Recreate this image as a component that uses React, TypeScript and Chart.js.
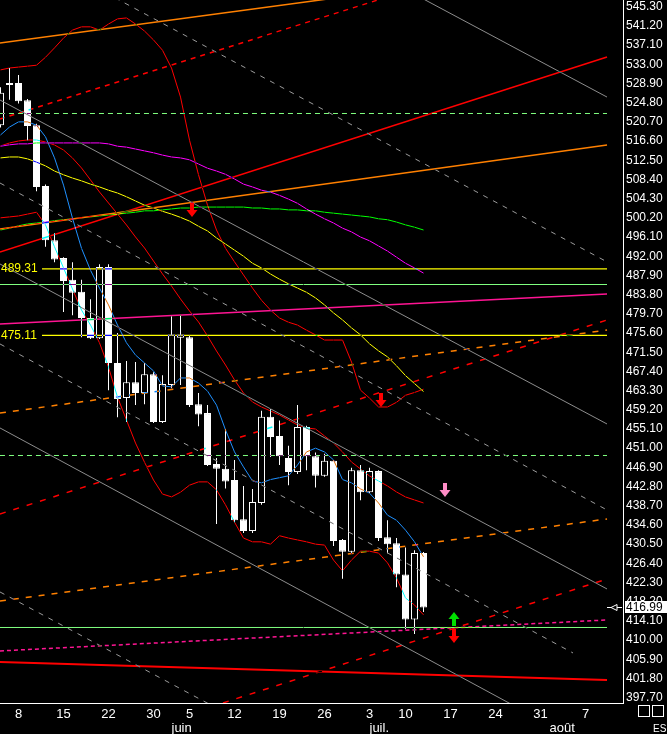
import React, { useEffect, useRef } from 'react';
import { Chart, registerables } from 'chart.js';

Chart.register(...registerables);

// Daily candles, trading-day index 0 = Monday 8 May; the first two bars are the prior sessions.
const FIRST_INDEX = -2;

const opens = [
  520.0, 528.6, 529.0, 525.3, 520.0, 507.0, 495.4, 491.6, 487.0, 484.4, 478.8, 474.5,
  489.7, 469.2, 461.7, 465.1, 462.8, 466.8, 456.6, 464.5, 474.6, 474.7, 460.4, 458.5,
  447.6, 446.6, 444.2, 435.8, 433.3, 439.3, 457.7, 453.6, 448.9, 445.9, 455.5, 449.3,
  445.1, 448.3, 431.4, 428.9, 446.3, 441.6, 446.1, 432.0, 430.7, 424.0, 414.4, 428.6,
];
const highs = [
  528.1, 532.2, 530.7, 525.6, 520.3, 507.3, 496.9, 491.8, 490.7, 487.0, 482.8, 490.3,
  490.3, 475.6, 469.6, 469.4, 469.2, 467.2, 466.6, 479.2, 479.4, 475.0, 462.8, 460.2,
  448.9, 455.1, 448.5, 442.9, 442.3, 459.0, 459.5, 456.9, 451.5, 460.2, 455.8, 450.1,
  449.8, 448.5, 431.6, 446.8, 447.4, 446.8, 446.3, 435.6, 431.8, 429.8, 429.2, 428.8,
];
const lows = [
  519.5, 525.4, 524.6, 516.8, 505.9, 494.0, 490.7, 480.1, 479.4, 474.7, 474.3, 474.3,
  463.4, 457.6, 456.6, 460.2, 460.4, 456.4, 456.4, 463.8, 464.5, 459.8, 455.7, 447.2,
  434.8, 442.4, 435.2, 432.9, 432.9, 438.9, 449.1, 447.4, 443.1, 445.5, 446.3, 442.6,
  444.9, 430.1, 423.1, 428.5, 439.9, 441.4, 431.2, 428.5, 421.3, 412.3, 411.3, 416.0,
];
const closes = [
  526.9, 529.0, 525.1, 519.8, 506.8, 495.4, 491.3, 486.7, 484.2, 478.8, 474.5, 489.7,
  469.2, 461.5, 465.1, 462.8, 466.8, 456.6, 464.7, 475.3, 475.3, 460.2, 458.2, 447.4,
  446.6, 443.9, 435.6, 433.3, 439.5, 457.7, 453.4, 449.3, 445.9, 455.5, 449.3, 445.1,
  448.3, 431.2, 428.9, 446.3, 441.6, 446.1, 431.8, 430.5, 424.0, 414.4, 428.6, 416.99,
];

// Indicators, one value per candle
const fastAverage = [
  517.9, 519.6, 520.7, 520.7, 520.0, 517.5, 513.0, 507.2, 500.1, 493.7, 489.0, 485.2,
  481.6, 477.3, 473.5, 470.9, 469.2, 467.5, 464.3, 464.1, 466.0, 466.0, 464.9, 463.2,
  460.2, 454.9, 450.2, 447.0, 444.0, 443.6, 444.3, 444.7, 445.1, 447.4, 450.2, 451.0,
  450.2, 448.5, 444.3, 443.6, 442.3, 441.4, 439.3, 436.7, 435.6, 433.5, 431.0, 427.8,
];
const bandUpper = [
  531.8, 532.2, 532.4, 532.6, 532.8, 534.5, 536.5, 538.6, 540.3, 541.0, 541.0, 540.3,
  541.6, 542.7, 542.9, 541.6, 540.1, 538.2, 536.0, 532.2, 526.0, 516.8, 509.4, 502.9,
  497.6, 493.7, 490.8, 488.0, 485.2, 482.6, 480.5, 478.8, 477.9, 477.3, 476.2, 475.2,
  474.1, 474.1, 474.1, 469.4, 463.4, 461.7, 459.8, 459.8, 460.8, 462.3, 462.9, 463.6,
];
const bandMiddle = [
  515.55, 516.19, 516.62, 516.83, 516.83, 516.4, 515.76, 514.69, 512.98, 510.85, 508.29, 505.72,
  503.37, 501.02, 498.67, 496.11, 493.76, 490.98, 488.21, 485.64, 482.87, 480.3, 477.96, 474.97,
  471.76, 468.77, 465.57, 462.79, 460.87, 459.8, 458.95, 458.09, 457.02, 455.96, 455.32, 455.1,
  453.61, 452.11, 450.19, 448.05, 446.56, 445.06, 444.0, 442.93, 441.65, 440.58, 439.94, 439.3,
];
const bandLower = [
  500.2, 500.4, 500.6, 501.0, 501.4, 498.7, 494.0, 489.5, 485.0, 480.5, 477.3, 473.5,
  468.3, 461.9, 457.0, 452.1, 448.0, 444.2, 441.2, 440.6, 441.6, 443.1, 443.8, 443.8,
  442.1, 438.9, 435.2, 431.8, 431.0, 431.0, 430.5, 432.3, 431.8, 431.4, 431.0, 430.5,
  430.3, 427.1, 424.8, 427.1, 429.0, 429.0, 428.6, 426.5, 423.3, 419.0, 417.5, 415.4,
];
const averageYellow = [
  513.0, 513.2, 513.2, 512.8, 512.1, 511.3, 510.2, 509.4, 508.7, 508.1, 507.4, 506.8,
  506.1, 505.5, 504.7, 503.8, 502.9, 502.3, 501.6, 501.0, 500.3, 499.5, 498.4, 497.4,
  495.9, 494.6, 493.3, 492.0, 490.5, 489.5, 488.2, 487.1, 486.1, 485.2, 484.3, 483.1,
  481.6, 479.9, 478.4, 476.7, 475.2, 473.3, 471.8, 470.5, 468.6, 466.5, 464.8, 463.1,
];
const averageMagenta = [
  515.5, 515.8, 516.0, 516.0, 516.2, 516.2, 516.2, 516.2, 516.2, 516.2, 516.2, 516.2,
  516.0, 515.5, 515.3, 514.9, 514.5, 514.1, 513.6, 513.2, 513.0, 512.6, 511.7, 510.8,
  510.2, 509.5, 508.5, 507.4, 506.8, 506.1, 505.7, 505.0, 504.2, 503.3, 502.1, 501.0,
  500.0, 499.1, 498.0, 497.2, 496.1, 495.3, 494.2, 493.1, 491.8, 490.5, 489.5, 488.4,
];
const averageGreen = [
  497.6, 498.0, 498.5, 498.9, 499.1, 499.3, 499.6, 499.8, 500.0, 500.2, 500.4, 500.6,
  500.8, 501.0, 501.2, 501.4, 501.7, 501.7, 501.9, 502.1, 502.3, 502.3, 502.5, 502.5,
  502.5, 502.5, 502.5, 502.5, 502.3, 502.3, 502.1, 502.1, 501.9, 501.9, 501.7, 501.7,
  501.4, 501.2, 501.0, 500.8, 500.6, 500.4, 500.0, 499.8, 499.3, 498.7, 498.2, 497.6,
];

// Trend lines, end points as [trading-day index, price]
const orangeUpper = [[-2.06, 537.55], [40, 548.4]];
const orangeRising = [[-2.06, 497.82], [65.39, 515.76]];
const orangeDashHigh = [[-2.06, 458.52], [65.39, 476.25]];
const orangeDashLow = [[-2.06, 418.37], [65.39, 435.88]];
const redDashTop = [[-2.06, 521.3], [40.2, 546.9]];
const redRising = [[-2.06, 492.91], [65.39, 534.56]];
const redDashMid = [[-2.06, 436.95], [65.39, 478.38]];
const redDashLow = [[22.72, 396.58], [65.39, 423.06]];
const redFloor = [[-2.06, 405.33], [65.39, 401.49]];
const pinkLine = [[-2.06, 477.53], [65.39, 483.94]];
const pinkDash = [[-2.06, 407.69], [65.39, 414.31]];
const channelSolid = [
  [[44.06, 547.9], [65.39, 526.0]],
  [[-2.06, 525.37], [65.39, 456.17]],
  [[-2.06, 490.34], [65.39, 420.93]],
  [[-2.06, 455.32], [65.39, 385.26]],
];
const channelDashed = [
  [[10.72, 547.2], [65.39, 490.8]],
  [[-2.06, 507.64], [65.39, 437.8]],
  [[-2.06, 473.26], [61.61, 407.26]],
  [[-2.06, 420.29], [22.39, 395.1]],
];

// Horizontal levels
const yellowLevels = [489.31, 475.11];
const paleDashedLevels = [522.49, 449.44];
const paleSolidLevels = [485.96, 412.7];

// Signals
const signalIndex = [19.24, 40.28, 47.42, 48.36, 48.36];
const signalPrice = [501.88, 461.3, 442.14, 414.52, 410.78];
const signalKind = ['sell', 'sell', 'alert', 'buy', 'sell'];

// Axes
const priceTicks = [
  397.7, 401.8, 405.9, 410.0, 414.1, 418.2, 422.3, 426.4, 430.5, 434.6, 438.7, 442.8,
  446.9, 451.0, 455.1, 459.2, 463.3, 467.4, 471.5, 475.6, 479.7, 483.8, 487.9, 492.0,
  496.1, 500.2, 504.3, 508.4, 512.5, 516.6, 520.7, 524.8, 528.9, 533.0, 537.1, 541.2, 545.3,
];
const dayTickIndex = [0, 5, 10, 15, 19, 24, 29, 34, 39, 43, 48, 53, 58, 63];
const dayTickLabels = ['8', '15', '22', '30', '5', '12', '19', '26', '3', '10', '17', '24', '31', '7'];
const monthStartIndex = [17, 39, 59];
const monthLabels = ['juin', 'juil.', 'août'];

// Layout of the plot window
const W = 667;
const H = 734;
const X_MIN = -2 - 0.5 / 9;
const X_MAX = X_MIN + 623 / 9;
const Y_MIN = 396.571;
const Y_MAX = 546.731;
const LINE_START = -2.06;
const LINE_END = 65.39;
const LEVEL_START = 2.61;
const FONT = '"Liberation Sans", Arial, sans-serif';

const GRAY = '#8c8c8c';
const GRAY_DASH = '#9a9a9a';
const RED = '#ff0000';
const ORANGE = '#ff8000';
const PALE = '#80ff80';
const PINK = '#ff1493';

type Pt = number[];

function lineSet(pts: Pt[], color: string, width = 1, dash: number[] = []) {
  return {
    type: 'line' as const,
    data: pts.map(([x, y]) => ({ x, y })),
    borderColor: color,
    borderWidth: width,
    borderDash: dash,
    pointRadius: 0,
    pointHoverRadius: 0,
    fill: false,
    tension: 0,
    order: 1,
    clip: 0,
  };
}

const series = (vals: number[]): Pt[] => vals.map((v, k) => [FIRST_INDEX + k, v]);
const flat = (v: number, from = LINE_START): Pt[] => [[from, v], [LINE_END, v]];

function drawArrow(ctx: CanvasRenderingContext2D, cx: number, cy: number, up: boolean, color: string) {
  const s = up ? -1 : 1;
  ctx.fillStyle = color;
  ctx.fillRect(cx - 2, up ? cy - 1 : cy - 7, 4, 8);
  ctx.beginPath();
  ctx.moveTo(cx - 5.5, cy);
  ctx.lineTo(cx + 5.5, cy);
  ctx.lineTo(cx, cy + 7 * s);
  ctx.closePath();
  ctx.fill();
}

const backdrop = {
  id: 'backdrop',
  beforeDraw(chart: any) {
    const { ctx } = chart;
    ctx.save();
    ctx.fillStyle = '#000';
    ctx.fillRect(0, 0, chart.width, chart.height);
    ctx.restore();
  },
};

// Indicator lines invert what lies beneath them, as on the trading terminal.
const invertLines = {
  id: 'invertLines',
  beforeDatasetDraw(chart: any, args: any) {
    if (args.meta.type === 'line') {
      chart.ctx.save();
      chart.ctx.globalCompositeOperation = 'difference';
    }
  },
  afterDatasetDraw(chart: any, args: any) {
    if (args.meta.type === 'line') chart.ctx.restore();
  },
};

const decorations = {
  id: 'decorations',
  afterDraw(chart: any) {
    const { ctx, chartArea } = chart;
    const xs = chart.scales.x;
    const ys = chart.scales.y;
    ctx.save();

    // month names under the day numbers
    ctx.font = `13px ${FONT}`;
    ctx.fillStyle = '#ffffff';
    ctx.textAlign = 'left';
    ctx.textBaseline = 'middle';
    monthStartIndex.forEach((m, k) => {
      ctx.fillText(monthLabels[k], xs.getPixelForValue(m), chartArea.bottom + 25);
    });

    // level captions
    ctx.font = `12px ${FONT}`;
    ctx.fillStyle = '#ffff00';
    yellowLevels.forEach((v) => {
      ctx.fillText(v.toFixed(2), 1, ys.getPixelForValue(v));
    });

    // signal arrows
    signalIndex.forEach((si, k) => {
      const kind = signalKind[k];
      const color = kind === 'buy' ? '#00e000' : kind === 'alert' ? '#ff8cc6' : '#ff0000';
      drawArrow(ctx, Math.round(xs.getPixelForValue(si)), Math.round(ys.getPixelForValue(signalPrice[k])), kind === 'buy', color);
    });

    // last price marker
    const last = closes[closes.length - 1];
    const py = Math.round(ys.getPixelForValue(last)) + 0.5;
    const r = chartArea.right;
    ctx.strokeStyle = '#ffffff';
    ctx.lineWidth = 1;
    ctx.beginPath();
    ctx.moveTo(r - 16, py);
    ctx.lineTo(r - 12, py);
    ctx.moveTo(r - 12, py);
    ctx.lineTo(r - 6, py - 3);
    ctx.lineTo(r - 6, py + 3);
    ctx.closePath();
    ctx.moveTo(r - 6, py);
    ctx.lineTo(r - 1, py);
    ctx.stroke();
    ctx.fillStyle = '#ffffff';
    ctx.fillRect(r + 2, py - 6.5, W - r - 2, 12);
    ctx.fillStyle = '#000000';
    ctx.font = `12px ${FONT}`;
    ctx.textBaseline = 'middle';
    ctx.fillText(last.toFixed(2), r + 3, py);

    // corner boxes and instrument code
    ctx.strokeStyle = '#ffffff';
    ctx.strokeRect(r + 15.5, chartArea.bottom + 2.5, 11, 11);
    ctx.strokeRect(r + 29.5, chartArea.bottom + 2.5, 11, 11);
    ctx.fillStyle = '#ffffff';
    ctx.font = `10px ${FONT}`;
    ctx.fillText('ES', r + 30, chartArea.bottom + 26);

    ctx.restore();
  },
};

export default function App() {
  const canvasRef = useRef<HTMLCanvasElement>(null);

  useEffect(() => {
    document.body.style.margin = '0';
    document.body.style.background = '#000';
    const canvas = canvasRef.current;
    if (!canvas) return;

    const idx = opens.map((_, k) => FIRST_INDEX + k);

    const wicks = {
      type: 'bar' as const,
      data: idx.map((x, k) => ({ x, y: [lows[k], highs[k]] })),
      backgroundColor: '#ffffff',
      borderWidth: 0,
      barThickness: 1,
      grouped: false,
      inflateAmount: 0,
      order: 3,
      clip: 0,
    };
    const bodies = {
      type: 'bar' as const,
      data: idx.map((x, k) => ({ x, y: [Math.min(opens[k], closes[k]), Math.max(opens[k], closes[k])] })),
      backgroundColor: idx.map((_, k) => (closes[k] > opens[k] ? '#000000' : '#ffffff')),
      borderColor: '#ffffff',
      borderWidth: 1,
      borderSkipped: false,
      barThickness: 7,
      grouped: false,
      inflateAmount: 0,
      order: 2,
      clip: 0,
    };

    const datasets: any[] = [
      ...channelSolid.map((l) => lineSet(l, GRAY)),
      ...channelDashed.map((l) => lineSet(l, GRAY_DASH, 1, [5, 6])),
      lineSet(orangeUpper, ORANGE, 1.5),
      lineSet(orangeRising, ORANGE, 1.5),
      lineSet(orangeDashHigh, ORANGE, 1.5, [6, 7]),
      lineSet(orangeDashLow, ORANGE, 1.5, [6, 7]),
      lineSet(redDashTop, RED, 1.5, [5, 5]),
      lineSet(redRising, RED, 1.5),
      lineSet(redDashMid, RED, 1.5, [6, 8]),
      lineSet(redDashLow, RED, 1.5, [6, 8]),
      lineSet(redFloor, RED, 2),
      lineSet(pinkLine, PINK, 1.5),
      lineSet(pinkDash, PINK, 1.5, [4, 3]),
      ...paleDashedLevels.map((v) => lineSet(flat(v), PALE, 1, [5, 4])),
      ...paleSolidLevels.map((v) => lineSet(flat(v), PALE)),
      ...yellowLevels.map((v) => lineSet(flat(v, LEVEL_START), '#ffff00', 1.2)),
      lineSet(series(averageGreen), '#00ff00'),
      lineSet(series(averageMagenta), '#ff00ff'),
      lineSet(series(averageYellow), '#ffff00'),
      lineSet(series(bandUpper), RED),
      lineSet(series(bandMiddle), RED),
      lineSet(series(bandLower), RED),
      lineSet(series(fastAverage), '#1e90ff'),
      bodies,
      wicks,
    ];

    const chart = new Chart(canvas, {
      type: 'bar',
      data: { datasets },
      plugins: [backdrop, invertLines, decorations],
      options: {
        responsive: false,
        animation: false,
        devicePixelRatio: 1,
        events: [],
        layout: { padding: 0 },
        plugins: { legend: { display: false }, tooltip: { enabled: false } },
        scales: {
          x: {
            type: 'linear',
            min: X_MIN,
            max: X_MAX,
            offset: false,
            grid: { display: false, drawTicks: false },
            border: { display: true, color: '#ffffff', width: 1 },
            afterBuildTicks: (s: any) => {
              s.ticks = dayTickIndex.map((v) => ({ value: v }));
            },
            afterFit: (s: any) => {
              s.height = 31;
              s.paddingLeft = 0;
              s.paddingRight = 0;
            },
            ticks: {
              autoSkip: false,
              maxRotation: 0,
              padding: 4,
              color: '#ffffff',
              font: { family: FONT, size: 13 },
              callback: (_v: any, i: number) => dayTickLabels[i],
            },
          },
          y: {
            type: 'linear',
            position: 'right',
            min: Y_MIN,
            max: Y_MAX,
            beginAtZero: false,
            grid: { display: false, drawTicks: false },
            border: { display: true, color: '#ffffff', width: 1 },
            afterBuildTicks: (s: any) => {
              s.ticks = priceTicks.map((v) => ({ value: v }));
            },
            afterFit: (s: any) => {
              s.width = 44;
              s.paddingTop = 0;
              s.paddingBottom = 0;
            },
            ticks: {
              autoSkip: false,
              padding: 3,
              color: '#ffffff',
              font: { family: FONT, size: 12 },
              callback: (v: any) => Number(v).toFixed(2),
            },
          },
        },
      } as any,
    });

    return () => chart.destroy();
  }, []);

  return (
    <div style={{ width: W, height: H, background: '#000', overflow: 'hidden' }}>
      <style>{'body{margin:0;background:#000}'}</style>
      <canvas ref={canvasRef} width={W} height={H} style={{ display: 'block', width: W, height: H }} />
    </div>
  );
}
